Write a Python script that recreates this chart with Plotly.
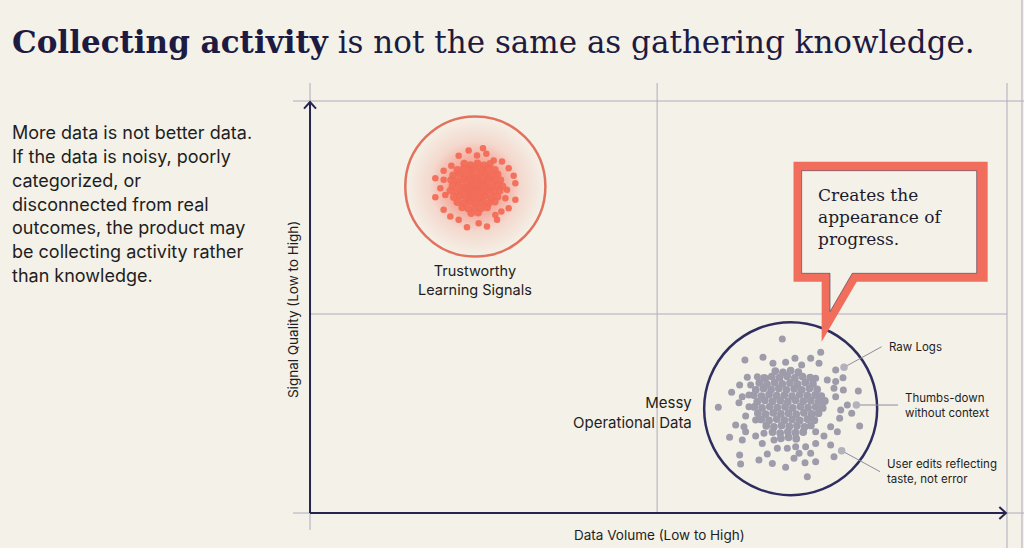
import plotly.graph_objects as go

# ---------------- colours ----------------
BG = "#f4f1e8"
GRID = "#aeacbd"
NAVY = "#27254f"
RED = "#f26b57"
RED_RING = "#e2725e"
GRAY_DOT = "#9e9cab"
GRAY_LIGHT = "#b3b1bc"
TEXT = "#1e1e22"
TITLE = "#1d1b42"

# ---------------- data (conceptual units) ----------------
# Quadrant frame: x = data volume (0..100), y = signal quality (0..59)
frame_x = [0, 49.8, 100]
frame_y = [0, 28.55, 59.11]

# Cluster centres and ring radii
red_center = (23.72, 46.84)
red_radius = 10.05
gray_center = (68.96, 14.97)
gray_radius = 12.41

# Trustworthy learning signals: outer dots (offsets from cluster centre)
red_outer_dx = [
    -0.96, 1.10, -2.39, 0.24, 1.58, 2.63, 3.83, -3.44, 4.78, -4.55, -5.74, -4.55,
    5.50, 5.74, -5.02, 4.55, -5.74, -4.31, 5.74, 4.31, -4.55, 4.78, -3.59, 3.73,
    -2.39, 2.87, -1.20, 0.48, 1.67, 3.11,
]
red_outer_dy = [
    5.17, 5.50, 4.40, 4.45, 4.69, 3.73, 3.59, 2.97, 2.63, 2.25, 1.20, 0.96,
    1.53, 0.48, -0.24, -0.48, -1.53, -1.20, -1.91, -1.67, -3.35, -3.11, -4.31, -3.59,
    -4.78, -4.07, -5.84, -5.26, -5.74, -4.78,
]
# dense core
red_core_dx = [
    -1.6, -0.7, 0.3, 1.2, 2.1,
    -2.6, -1.7, -0.8, 0.1, 1.0, 1.9, 2.8,
    -3.2, -2.3, -1.4, -0.5, 0.5, 1.4, 2.3, 3.2,
    -3.5, -2.6, -1.7, -0.8, 0.1, 1.0, 1.9, 2.8, 3.6,
    -3.3, -2.4, -1.5, -0.6, 0.4, 1.3, 2.2, 3.1, 3.9,
    -3.6, -2.7, -1.8, -0.9, 0.0, 0.9, 1.8, 2.7, 3.5,
    -3.1, -2.2, -1.3, -0.4, 0.5, 1.4, 2.3, 3.2,
    -2.6, -1.7, -0.8, 0.1, 1.0, 1.9, 2.8,
    -1.9, -1.0, -0.1, 0.8, 1.7,
    -0.6, 0.4,
]
red_core_dy = [
    3.3, 3.1, 3.35, 3.05, 3.25,
    2.4, 2.6, 2.45, 2.6, 2.4, 2.55, 2.4,
    1.6, 1.8, 1.65, 1.75, 1.6, 1.8, 1.65, 1.75,
    0.95, 0.8, 1.0, 0.85, 0.95, 0.8, 1.0, 0.85, 0.95,
    0.05, 0.2, 0.0, 0.15, 0.05, 0.2, 0.0, 0.15, 0.05,
    -0.6, -0.8, -0.65, -0.75, -0.6, -0.8, -0.65, -0.75, -0.6,
    -1.55, -1.4, -1.6, -1.45, -1.55, -1.4, -1.6, -1.45,
    -2.25, -2.4, -2.2, -2.35, -2.25, -2.4, -2.2,
    -3.0, -3.2, -3.05, -3.15, -3.0,
    -3.85, -3.75,
]

# Messy operational data: outer dots (offsets from cluster centre)
gray_outer_dx = [
    -1.20, 4.31, -6.56, -3.97, -2.54, -0.72, 0.62, 2.87, 4.07, 1.58, 6.46, 7.51,
    -6.22, -4.78, -3.59, 3.59, 5.26, 6.46, -7.32, -5.74, 6.22, 7.56, 9.71, -8.47,
    -6.94, -5.98, 6.46, 8.13, -7.42, -10.38, -5.98, 7.18, 8.76, -6.46, -5.02, 7.03,
    -7.89, -6.70, 5.74, 9.90, -6.46, -5.02, -3.83, 3.59, 4.78, 6.70, -8.76, -6.94,
    -4.07, -2.39, 5.74, -1.91, -0.48, 0.72, 2.15, 3.59, -7.32, -3.35, 1.20, 2.87,
    6.22, -7.18, -4.55, -2.63, -0.72, 0.48, 2.06, 3.59, 2.39,
]
gray_outer_dy = [
    10.00, 8.09, 6.99, 7.37, 6.51, 6.65, 7.22, 7.22, 6.51, 6.27, 5.55, 4.45,
    4.50, 4.59, 4.35, 4.35, 4.11, 3.88, 3.40, 3.40, 2.92, 2.68, 2.54, 2.34,
    1.72, 1.96, 1.72, 0.53, 0.86, 0.19, 0.29, -0.19, -0.67, -1.05, -1.63, -1.39,
    -2.34, -2.58, -2.58, -2.49, -3.30, -3.92, -3.54, -3.30, -3.92, -3.30, -4.11, -4.50,
    -4.98, -4.50, -5.22, -5.69, -5.69, -5.45, -5.45, -4.98, -6.65, -6.51, -6.41, -6.41,
    -6.89, -7.94, -7.37, -7.85, -8.42, -7.13, -7.75, -7.61, -9.76,
]
# dense core
gray_core_dx = [
    -2.2, -1.1, 0.0, 1.1,
    -3.8, -2.7, -1.6, -0.5, 0.6, 1.7, 2.8,
    -4.5, -3.4, -2.3, -1.2, -0.1, 1.0, 2.1, 3.2,
    -5.0, -3.9, -2.8, -1.7, -0.6, 0.5, 1.6, 2.7, 3.8,
    -5.3, -4.2, -3.1, -2.0, -0.9, 0.2, 1.3, 2.4, 3.5, 4.4,
    -4.8, -3.7, -2.6, -1.5, -0.4, 0.7, 1.8, 2.9, 4.0, 4.9,
    -5.2, -4.1, -3.0, -1.9, -0.8, 0.3, 1.4, 2.5, 3.6, 4.6,
    -4.7, -3.6, -2.5, -1.4, -0.3, 0.8, 1.9, 3.0, 4.0,
    -4.2, -3.1, -2.0, -0.9, 0.2, 1.3, 2.4, 3.4,
    -3.5, -2.4, -1.3, -0.2, 0.9, 2.0, 2.9,
    -2.6, -1.5, -0.4, 0.7, 1.8,
    -1.4, -0.3, 0.8,
]
gray_core_dy = [
    5.4, 5.2, 5.45, 5.25,
    4.4, 4.6, 4.45, 4.65, 4.4, 4.6, 4.45,
    3.7, 3.5, 3.75, 3.55, 3.7, 3.5, 3.75, 3.55,
    2.7, 2.9, 2.75, 2.9, 2.7, 2.85, 2.7, 2.9, 2.75,
    1.95, 1.8, 2.0, 1.85, 1.95, 1.8, 2.0, 1.85, 1.95, 1.8,
    1.0, 1.2, 1.05, 1.15, 1.0, 1.2, 1.05, 1.15, 1.0, 1.1,
    0.25, 0.1, 0.3, 0.15, 0.25, 0.1, 0.3, 0.15, 0.25, 0.1,
    -0.65, -0.8, -0.6, -0.75, -0.65, -0.8, -0.6, -0.75, -0.65,
    -1.55, -1.7, -1.5, -1.65, -1.55, -1.7, -1.5, -1.65,
    -2.45, -2.6, -2.4, -2.55, -2.45, -2.6, -2.4,
    -3.35, -3.5, -3.3, -3.45, -3.35,
    -4.25, -4.1, -4.3,
]

# Highlighted (labelled) gray points: offsets and labels
callout_dx = [7.66, 9.43, 7.32]
callout_dy = [5.93, 0.53, -6.03]
callout_labels = ["Raw Logs", "Thumbs-down<br>without context", "User edits reflecting<br>taste, not error"]
callout_label_x = [82.02, 84.36, 81.78]
callout_label_y = [23.86, 15.49, 5.93]

paragraph = [
    "More data is not better data.",
    "If the data is noisy, poorly",
    "categorized, or",
    "disconnected from real",
    "outcomes, the product may",
    "be collecting activity rather",
    "than knowledge.",
]

SANS = "Inter, 'Noto Sans', sans-serif"
SERIF = "'DejaVu Serif', serif"

fig = go.Figure()

# glow behind the trustworthy cluster
for size, alpha in [(140, 0.5), (90, 0.65)]:
    fig.add_trace(go.Scatter(
        x=[red_center[0]], y=[red_center[1]], mode="markers", hoverinfo="skip",
        marker=dict(size=size, color="rgba(243,100,80,0)", line=dict(width=0),
                    gradient=dict(type="radial", color=f"rgba(243,100,80,{alpha})")),
        showlegend=False, cliponaxis=False))

fig.add_trace(go.Scatter(
    x=[red_center[0] + d for d in red_outer_dx], y=[red_center[1] + d for d in red_outer_dy],
    mode="markers", marker=dict(size=6.5, color=RED, opacity=0.95, line=dict(width=0)),
    hoverinfo="skip", showlegend=False))
fig.add_trace(go.Scatter(
    x=[red_center[0] + d for d in red_core_dx], y=[red_center[1] + d for d in red_core_dy],
    mode="markers", marker=dict(size=7.5, color=RED, opacity=0.92, line=dict(width=0)),
    hoverinfo="skip", showlegend=False))

fig.add_trace(go.Scatter(
    x=[gray_center[0] + d for d in gray_outer_dx], y=[gray_center[1] + d for d in gray_outer_dy],
    mode="markers", marker=dict(size=7, color=GRAY_DOT, line=dict(width=0)),
    hoverinfo="skip", showlegend=False))
fig.add_trace(go.Scatter(
    x=[gray_center[0] + d for d in gray_core_dx], y=[gray_center[1] + d for d in gray_core_dy],
    mode="markers", marker=dict(size=7.8, color=GRAY_DOT, line=dict(width=0)),
    hoverinfo="skip", showlegend=False))

pts_x = [gray_center[0] + d for d in callout_dx]
pts_y = [gray_center[1] + d for d in callout_dy]
# leader lines
for px, py, lx, ly in zip(pts_x, pts_y, callout_label_x, callout_label_y):
    fig.add_trace(go.Scatter(x=[px, lx], y=[py, ly], mode="lines",
                             line=dict(color="#8f8d9c", width=1),
                             hoverinfo="skip", showlegend=False))
fig.add_trace(go.Scatter(
    x=pts_x, y=pts_y, mode="markers",
    marker=dict(size=7.5, color=GRAY_LIGHT, line=dict(width=0)),
    hoverinfo="skip", showlegend=False))

for lab, lx, ly in zip(callout_labels, callout_label_x, callout_label_y):
    fig.add_annotation(x=lx + 0.7, y=ly, text=lab, showarrow=False, xanchor="left",
                       yanchor="middle", align="left",
                       font=dict(family=SANS, size=11.5, color=TEXT))

shapes = []
ext_lo, ext_hi = -2.44, 102.44
top = 61.69
# gray frame lines
shapes.append(dict(type="line", x0=ext_lo, x1=ext_hi, y0=frame_y[2], y1=frame_y[2]))
shapes.append(dict(type="line", x0=frame_x[0], x1=frame_x[2], y0=frame_y[1], y1=frame_y[1]))
shapes.append(dict(type="line", x0=ext_lo, x1=ext_hi, y0=frame_y[0], y1=frame_y[0]))
shapes.append(dict(type="line", x0=frame_x[0], x1=frame_x[0], y0=ext_lo, y1=top))
shapes.append(dict(type="line", x0=frame_x[1], x1=frame_x[1], y0=frame_y[0], y1=top))
shapes.append(dict(type="line", x0=frame_x[2], x1=frame_x[2], y0=-5.1, y1=top))
shapes.append(dict(type="line", x0=102.15, x1=102.15, y0=-5.1, y1=73.7))
for s in shapes:
    s.update(line=dict(color=GRID, width=1), layer="below", xref="x", yref="y")

# navy axes with open arrow heads
axis_paths = [
    f"M {frame_x[0]},{frame_y[0]} L {frame_x[0]},{frame_y[2] - 0.15}",
    f"M {frame_x[0] - 0.86},{frame_y[2] - 1.1} L {frame_x[0]},{frame_y[2] - 0.15} L {frame_x[0] + 0.86},{frame_y[2] - 1.1}",
    f"M {frame_x[0]},{frame_y[0]} L {frame_x[2] - 0.15},{frame_y[0]}",
    f"M {frame_x[2] - 1.1},{frame_y[0] + 0.86} L {frame_x[2] - 0.15},{frame_y[0]} L {frame_x[2] - 1.1},{frame_y[0] - 0.86}",
]
for p in axis_paths:
    shapes.append(dict(type="path", path=p, line=dict(color=NAVY, width=2), layer="below"))

# rings
shapes.append(dict(type="circle", x0=red_center[0] - red_radius, x1=red_center[0] + red_radius,
                   y0=red_center[1] - red_radius, y1=red_center[1] + red_radius,
                   line=dict(color=RED_RING, width=2.5), layer="below"))
shapes.append(dict(type="circle", x0=gray_center[0] - gray_radius, x1=gray_center[0] + gray_radius,
                   y0=gray_center[1] - gray_radius, y1=gray_center[1] + gray_radius,
                   line=dict(color="#2f2d60", width=2.5), layer="below"))

# speech bubble
outer = "M 69.37,50.40 L 97.23,50.40 L 97.23,33.19 L 78.44,33.19 L 73.41,24.58 L 73.41,33.19 L 69.37,33.19 Z"
inner = "M 70.54,49.11 L 95.65,49.11 L 95.65,34.39 L 77.80,34.39 L 74.61,28.90 L 74.61,34.39 L 70.54,34.39 Z"
shapes.append(dict(type="path", path=outer, fillcolor="#f26e5c", line=dict(width=0), layer="above"))
shapes.append(dict(type="path", path=inner, fillcolor=BG,
                   line=dict(color="rgba(60,50,80,0.55)", width=1), layer="above"))

fig.update_layout(shapes=shapes)

# texts
fig.add_annotation(x=72.6, y=42.47, text="Creates the<br>appearance of<br>progress.",
                   showarrow=False, xanchor="left", yanchor="middle", align="left",
                   font=dict(family=SERIF, size=17, color="#1c1b2e"))
fig.add_annotation(x=red_center[0], y=33.29, text="Trustworthy<br>Learning Signals",
                   showarrow=False, xanchor="center", yanchor="middle", align="center",
                   font=dict(family=SANS, size=14.5, color=TEXT))
fig.add_annotation(x=55.14, y=14.35, text="Messy<br>Operational Data",
                   showarrow=False, xanchor="right", yanchor="middle", align="right",
                   font=dict(family=SANS, size=15, color=TEXT))
fig.add_annotation(x=50.2, y=-3.16, text="Data Volume (Low to High)", showarrow=False,
                   xanchor="center", yanchor="middle",
                   font=dict(family=SANS, size=13.5, color=TEXT))
fig.add_annotation(x=-2.44, y=29.12, text="Signal Quality (Low to High)", showarrow=False,
                   textangle=-90, xanchor="center", yanchor="middle",
                   font=dict(family=SANS, size=13.5, color=TEXT))
fig.add_annotation(x=-43.04, y=67.58,
                   text="<b>Collecting activity</b> is not the same as gathering knowledge.",
                   showarrow=False, xanchor="left", yanchor="middle",
                   font=dict(family=SERIF, size=31, color=TITLE))
for i, line in enumerate(paragraph):
    fig.add_annotation(x=-43.04, y=54.62 - i * 3.43, text=line, showarrow=False,
                       xanchor="left", yanchor="middle",
                       font=dict(family=SANS, size=18, color=TEXT))

fig.update_layout(
    width=1024, height=548, autosize=False,
    margin=dict(l=0, r=0, t=0, b=0),
    paper_bgcolor=BG, plot_bgcolor=BG,
    xaxis=dict(range=[-44.48, 102.44], visible=False, fixedrange=True),
    yaxis=dict(range=[-5.02, 73.60], visible=False, fixedrange=True),
    showlegend=False,
)

fig.write_html("out.html", post_script="document.body.style.margin='0';",
               config={"displayModeBar": False})
